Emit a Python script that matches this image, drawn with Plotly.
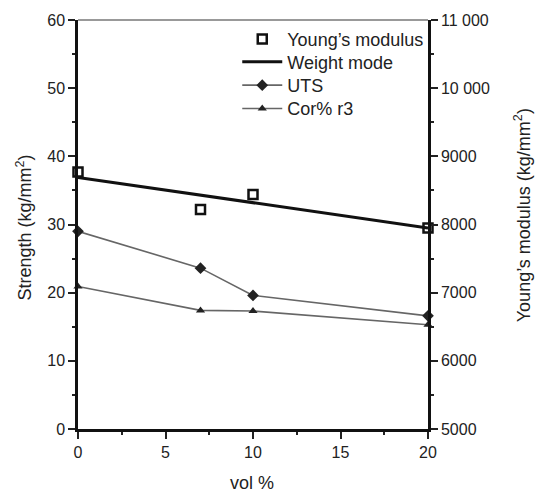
import plotly.graph_objects as go

vol = [0, 7, 10, 20]
youngs_modulus = [8770, 8220, 8440, 7950]
weight_mode_x = [0, 20]
weight_mode = [8690, 7950]
uts = [29.0, 23.6, 19.6, 16.6]
cor_r3 = [20.9, 17.4, 17.3, 15.3]

left_ticks = [0, 10, 20, 30, 40, 50, 60]
right_ticks = [5000, 6000, 7000, 8000, 9000, 10000, 11000]
right_labels = ["5000", "6000", "7000", "8000", "9000", "10 000", "11 000"]
x_ticks = [0, 5, 10, 15, 20]

FONT = "Liberation Sans, Arial, sans-serif"

fig = go.Figure()
fig.add_trace(go.Scatter(
    x=vol, y=youngs_modulus, yaxis="y2", mode="markers", name="Young\u2019s modulus",
    marker=dict(symbol="square-open", size=9, color="#111", line=dict(width=2.5, color="#111")),
    cliponaxis=False, legend="legend"))
fig.add_trace(go.Scatter(
    x=weight_mode_x, y=weight_mode, yaxis="y2", mode="lines", name="Weight mode",
    line=dict(color="#111", width=3), cliponaxis=False, legend="legend2"))
fig.add_trace(go.Scatter(
    x=vol, y=uts, mode="lines+markers", name="UTS",
    line=dict(color="#666", width=1.6),
    marker=dict(symbol="diamond", size=9, color="#222"), cliponaxis=False, legend="legend3"))
fig.add_trace(go.Scatter(
    x=vol, y=cor_r3, mode="lines+markers", name="Cor% r3",
    line=dict(color="#666", width=1.6),
    marker=dict(symbol="triangle-up", size=8, color="#222"), cliponaxis=False, legend="legend4"))

axis_common = dict(showgrid=False, zeroline=False, ticks="outside", ticklen=7,
                   tickwidth=1.5, tickcolor="#222", linecolor="#111", linewidth=2.5,
                   tickfont=dict(family=FONT, size=16, color="#222"))


def leg(yc):
    return dict(x=0.455, y=yc, xanchor="left", yanchor="middle",
                bgcolor="rgba(0,0,0,0)", font=dict(family=FONT, size=18, color="#222"),
                tracegroupgap=0, itemwidth=40)


fig.update_layout(
    width=536, height=491,
    margin=dict(l=78, r=108, t=18, b=62),
    paper_bgcolor="white", plot_bgcolor="white",
    font=dict(family=FONT, color="#222"),
    showlegend=True,
    legend=leg(0.953), legend2=leg(0.897), legend3=leg(0.84), legend4=leg(0.783),
    xaxis=dict(range=[0, 20], tickvals=x_ticks, showline=True, mirror=False,
               minor=dict(dtick=2.5, ticklen=3, ticks="outside", tickcolor="#222", tickwidth=1.5),
               **axis_common),
    yaxis=dict(range=[0, 60], tickvals=left_ticks, showline=True,
               minor=dict(dtick=5, ticklen=3, ticks="outside", tickcolor="#222", tickwidth=1.5),
               **axis_common),
    yaxis2=dict(range=[5000, 11000], tickvals=right_ticks, ticktext=right_labels,
                overlaying="y", side="right", showline=True,
                minor=dict(dtick=500, ticklen=3, ticks="outside", tickcolor="#222", tickwidth=1.5),
                **axis_common),
)

# top frame line
fig.add_shape(type="line", xref="paper", yref="paper", x0=0, x1=1, y0=1, y1=1,
              line=dict(color="#777", width=1.5))

fig.add_annotation(text="Strength (kg/mm<sup>2</sup>)", xref="paper", yref="paper",
                   x=-0.154, y=0.493, xanchor="center", yanchor="middle", textangle=-90,
                   showarrow=False, font=dict(family=FONT, size=18, color="#222"))
fig.add_annotation(text="Young\u2019s modulus (kg/mm<sup>2</sup>)", xref="paper", yref="paper",
                   x=1.269, y=0.523, xanchor="center", yanchor="middle", textangle=-90,
                   showarrow=False, font=dict(family=FONT, size=18, color="#222"))
fig.add_annotation(text="vol %", xref="paper", yref="paper",
                   x=0.496, y=-0.132, xanchor="center", yanchor="middle",
                   showarrow=False, font=dict(family=FONT, size=18, color="#222"))

fig.write_html("out.html", config={"displayModeBar": False},
               post_script="document.body.style.margin='0px';")
